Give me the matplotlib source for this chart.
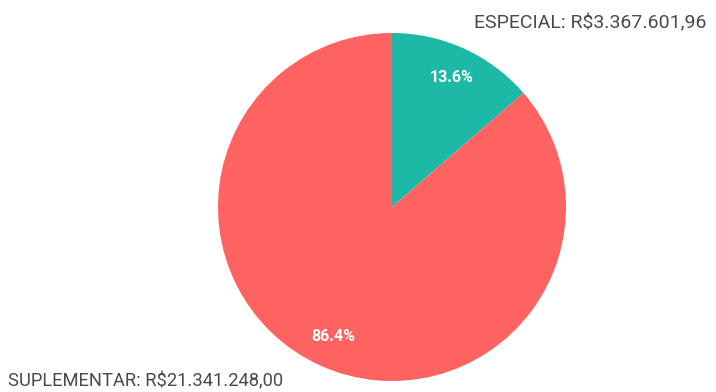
import matplotlib
matplotlib.use("Agg")
import matplotlib.pyplot as plt

labels = ["ESPECIAL", "SUPLEMENTAR"]
values = [3367601.96, 21341248.00]
value_text = ["R$3.367.601,96", "R$21.341.248,00"]
colors = ["#1cb9a7", "#ff6361"]

plt.rcParams["font.family"] = ["Roboto", "DejaVu Sans"]

fig = plt.figure(figsize=(7.16, 3.92), dpi=100)
ax = fig.add_axes([218 / 716, 11 / 392, 348 / 716, 348 / 392])
wedges, texts, autotexts = ax.pie(values, colors=colors, startangle=90,
                                  counterclock=False, autopct="%1.1f%%",
                                  pctdistance=0.82,
                                  textprops=dict(color="white", fontsize=11.5,
                                                 fontweight="bold"))
ax.set_xlim(-1, 1); ax.set_ylim(-1, 1)
ax.set_aspect("equal")

# rotulos externos
ax.text(0.471, 1.055, f"{labels[0]}: {value_text[0]}", ha="left", va="center",
        fontsize=14, color="#4a4a4a", clip_on=False)
ax.text(-2.207, -1.0, f"{labels[1]}: {value_text[1]}", ha="left", va="center",
        fontsize=13.2, color="#4a4a4a", clip_on=False)

fig.savefig("out.png", dpi=100)
